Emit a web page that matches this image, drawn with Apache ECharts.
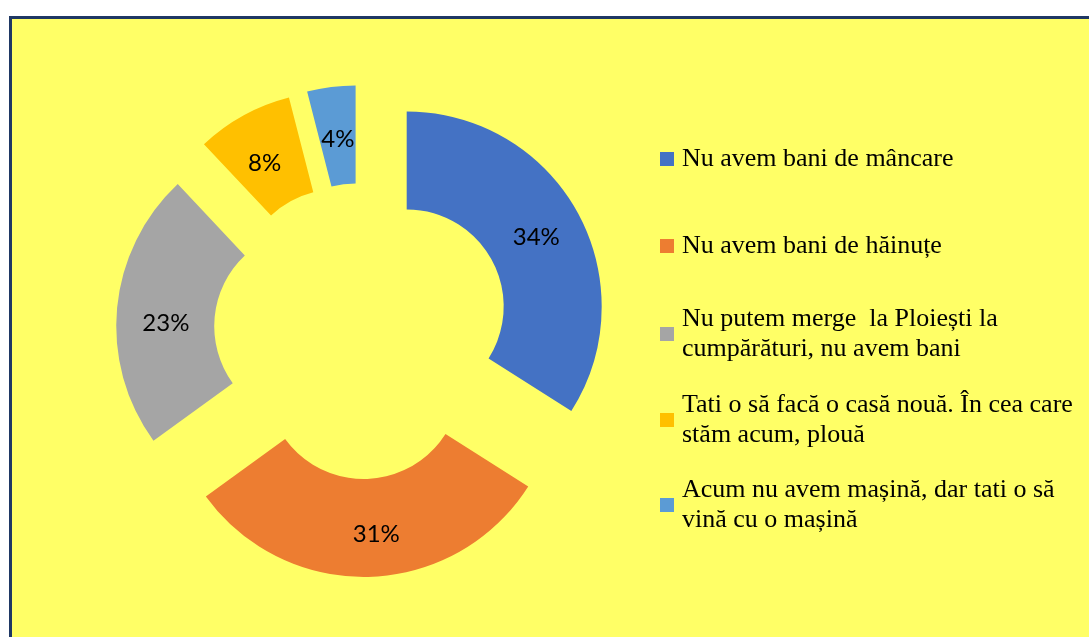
<!DOCTYPE html>
<html>
<head>
<meta charset="utf-8">
<script src="https://cdn.jsdelivr.net/npm/echarts@6/dist/echarts.min.js"></script>
<style>
html,body{margin:0;padding:0;background:#fff;overflow:hidden;width:1089px;height:637px;}
#bg{position:absolute;left:9px;top:16px;width:1200px;height:800px;background:#FFFF66;border:3px solid #1F3864;}
#c{position:absolute;left:0;top:0;width:1089px;height:637px;}
</style>
</head>
<body>
<div id="bg"></div>
<div id="c"></div>
<script>
const categories = [
  "Nu avem bani de mâncare",
  "Nu avem bani de hăinuțe",
  "Nu putem merge  la Ploiești la\ncumpărături, nu avem bani",
  "Tati o să facă o casă nouă. În cea care\nstăm acum, plouă",
  "Acum nu avem mașină, dar tati o să\nvină cu o mașină"
];
const values = [34, 31, 23, 8, 4];

// styling only (not data)
const colors = ["#4472C4", "#ED7D31", "#A5A5A5", "#FFC000", "#5B9BD5"];
const legendCenters = [159, 246, 334, 420, 505];
const labelNudge = [[-1, 3], [8, 3], [3, 11], [-1, 8], [1, 7]];

const chart = echarts.init(document.getElementById('c'), null, {renderer: 'canvas'});

const legends = categories.map((name, i) => {
  const twoLine = name.indexOf('\n') >= 0;
  const h = twoLine ? 60 : 30;
  const p = twoLine ? 36 : 6;
  return {
    data: [name],
    orient: 'vertical',
    left: 660,
    top: legendCenters[i] - (h + p) / 2,
    padding: 0,
    itemWidth: 14,
    itemHeight: 14,
    itemGap: 8,
    icon: 'rect',
    selectedMode: false,
    textStyle: {
      fontFamily: 'Liberation Serif',
      fontSize: 26,
      color: '#000',
      lineHeight: 30,
      padding: [p, 0, 0, 3]
    }
  };
});

chart.setOption({
  backgroundColor: 'transparent',
  animation: false,
  color: colors,
  legend: legends,
  series: [{
    type: 'pie',
    center: [362, 331],
    radius: [97, 195],
    startAngle: 90,
    clockwise: true,
    selectedMode: 'multiple',
    selectedOffset: 51,
    avoidLabelOverlap: false,
    emphasis: {disabled: true},
    label: {
      show: true,
      position: 'inside',
      formatter: p => p.value + '%',
      fontFamily: 'Lato',
      fontSize: 24,
      color: '#000'
    },
    labelLayout: params => ({dx: labelNudge[params.dataIndex][0], dy: labelNudge[params.dataIndex][1]}),
    labelLine: {show: false},
    data: categories.map((name, i) => ({
      name: name,
      value: values[i],
      selected: true
    }))
  }]
});
</script>
</body>
</html>
